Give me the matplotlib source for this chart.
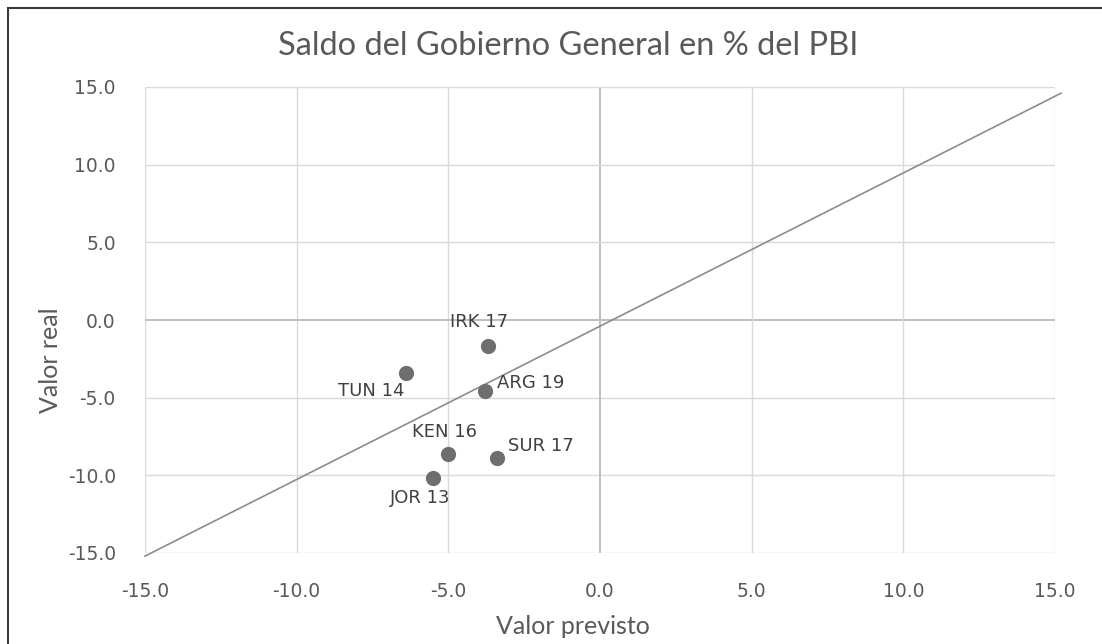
import numpy as np
import matplotlib.pyplot as plt
from matplotlib.patches import Rectangle

# --- datos --- #
paises = ["IRK 17", "TUN 14", "ARG 19", "KEN 16", "SUR 17", "JOR 13"]
previsto = [-3.7, -6.4, -3.8, -5.0, -3.4, -5.5]
real = [-1.7, -3.4, -4.6, -8.6, -8.9, -10.2]

linea_x = [-15.0, 15.2]
linea_y = [-15.2, 14.6]

ticks = [-15, -10, -5, 0, 5, 10, 15]

# offsets de las etiquetas (pixeles)
offsets = {
    "IRK 17": (-9, 24, "center"),
    "TUN 14": (-35, -18, "center"),
    "ARG 19": (46, 8, "center"),
    "KEN 16": (-4, 22, "center"),
    "SUR 17": (44, 12, "center"),
    "JOR 13": (-13, -20, "center"),
}

gris_txt = "#595959"

fig = plt.figure(figsize=(11.02, 6.44), dpi=100)
ax = fig.add_axes([145 / 1102, 1 - 553 / 644, 910 / 1102, 466 / 644])

ax.set_xlim(-15, 15)
ax.set_ylim(-15, 15)
ax.set_xticks(ticks)
ax.set_yticks(ticks)
ax.set_xticklabels(["%.1f" % t for t in ticks])
ax.set_yticklabels(["%.1f" % t for t in ticks])
ax.tick_params(length=0, labelsize=13.5, labelcolor=gris_txt, pad=21)
ax.tick_params(axis="x", pad=21)
for s in ax.spines.values():
    s.set_visible(False)
for t in ticks:
    c = "#bfbfbf" if t == 0 else "#d9d9d9"
    lw = 1.4 if t == 0 else 1.0
    ax.axvline(t, color=c, lw=lw, zorder=1)
    ax.axhline(t, color=c, lw=lw, zorder=1)

ax.plot(linea_x, linea_y, color="#8c8c8c", lw=1.2, zorder=2, clip_on=False)
ax.scatter(previsto, real, s=120, color="#6e6e6e", zorder=3, linewidths=0)

for p, x, y in zip(paises, previsto, real):
    dx, dy, ha = offsets[p]
    ax.annotate(p, (x, y), xytext=(dx, dy), textcoords="offset pixels",
                ha=ha, va="center", fontsize=13, color="#404040")

fig.text(568 / 1102, 1 - 46 / 644, "Saldo del Gobierno General en % del PBI",
         ha="center", va="center", fontsize=23.5, color=gris_txt, family="Lato")
fig.text(50 / 1102, 1 - 360 / 644, "Valor real", rotation=90,
         ha="center", va="center", fontsize=18, color=gris_txt, family="Lato")
fig.text(573 / 1102, 1 - 627 / 644, "Valor previsto",
         ha="center", va="center", fontsize=18, color=gris_txt, family="Lato")

# borde del area del grafico
fig.patches.append(Rectangle((8 / 1102, -0.05), 1.1, 1 - 8 / 644 + 0.05,
                             transform=fig.transFigure, fill=False,
                             edgecolor="#3a3a3a", lw=1.5))

fig.savefig("out.png", dpi=100)
